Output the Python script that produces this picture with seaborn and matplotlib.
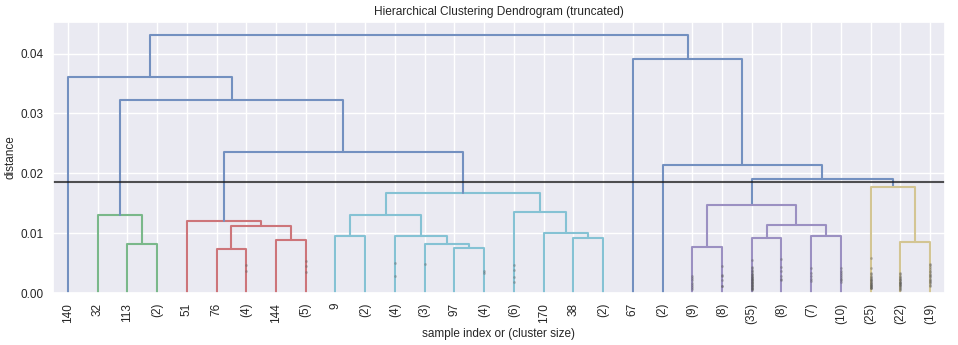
import numpy as np
import pandas as pd
import matplotlib
matplotlib.use("Agg")
import matplotlib.pyplot as plt
import seaborn as sns

# ---------------- data ----------------
leaf_labels = ["140", "32", "113", "(2)", "51", "76", "(4)", "144", "(5)", "9",
               "(2)", "(4)", "(3)", "97", "(4)", "(6)", "170", "38", "(2)", "67",
               "(2)", "(9)", "(8)", "(35)", "(8)", "(7)", "(10)", "(25)", "(22)", "(19)"]

# merges: node ids 0..29 are leaves, 30.. are merges in this order
merge_left = [2, 1, 5, 7, 32, 4, 9, 13, 12, 11, 36, 17, 16, 15, 40, 35, 31, 0,
              21, 23, 25, 49, 48, 28, 27, 52, 20, 19, 47]
merge_right = [3, 30, 6, 8, 33, 34, 10, 14, 37, 38, 39, 18, 41, 42, 43, 44, 45, 46,
               22, 24, 26, 50, 51, 29, 53, 54, 55, 56, 57]
merge_height = [0.00816, 0.01298, 0.00738, 0.00888, 0.01115, 0.01204, 0.00954,
                0.00749, 0.00821, 0.00954, 0.01303, 0.00921, 0.01004, 0.01348,
                0.01675, 0.02363, 0.03229, 0.03612, 0.00766, 0.00915, 0.00949,
                0.01132, 0.01470, 0.00849, 0.01764, 0.01897, 0.02136, 0.03911,
                0.04311]

cut_distance = 0.01847

# heights of contracted merges shown as small marks on contracted leaves
contracted_marks = [
    [], [], [], [], [], [],
    [0.0046, 0.0037],
    [],
    [0.0054, 0.0045, 0.0035],
    [], [],
    [0.0050, 0.0028],
    [0.0048],
    [],
    [0.0037, 0.0033],
    [0.0046, 0.0039, 0.0027, 0.0019],
    [], [], [], [], [],
    [0.0028, 0.0025, 0.0021, 0.0017, 0.0013, 0.0010, 0.0006],
    [0.0045, 0.0030, 0.0028, 0.0021, 0.0012, 0.0011],
    [0.0055, 0.0043, 0.0041, 0.0038, 0.0036, 0.0035, 0.0032, 0.0031, 0.0030,
     0.0028, 0.0027, 0.0026, 0.0025, 0.0024, 0.0023, 0.0022, 0.0021, 0.0020,
     0.0019, 0.0018, 0.0017, 0.0016, 0.0015, 0.0014, 0.0013, 0.0012, 0.0011,
     0.0010, 0.0009, 0.0008, 0.0007, 0.0006, 0.0005],
    [0.0056, 0.0044, 0.0037, 0.0028, 0.0023, 0.0022],
    [0.0041, 0.0033, 0.0028, 0.0024, 0.0020],
    [0.0041, 0.0037, 0.0033, 0.0030, 0.0026, 0.0024, 0.0021, 0.0019],
    [0.0058, 0.0042, 0.0033, 0.0031, 0.0029, 0.0027, 0.0025, 0.0024, 0.0022,
     0.0021, 0.0020, 0.0018, 0.0017, 0.0016, 0.0015, 0.0014, 0.0013, 0.0012,
     0.0011, 0.0010, 0.0009, 0.0008, 0.0008],
    [0.0033, 0.0031, 0.0029, 0.0027, 0.0025, 0.0023, 0.0022, 0.0021, 0.0019,
     0.0018, 0.0017, 0.0016, 0.0015, 0.0014, 0.0013, 0.0012, 0.0010, 0.0009,
     0.0007, 0.0005],
    [0.0048, 0.0046, 0.0043, 0.0040, 0.0037, 0.0035, 0.0032, 0.0030, 0.0028,
     0.0026, 0.0024, 0.0022, 0.0020, 0.0018, 0.0016, 0.0013, 0.0011],
]

cluster_palette = ["#7AB88A", "#CD757A", "#85C2D4", "#9B90C2", "#D3C593"]
above_color = "#7390C0"

# ---------------- style ----------------
sns.set_theme(style="darkgrid")
plt.rcParams["font.family"] = ["Liberation Sans", "DejaVu Sans"]
plt.rcParams["text.color"] = "#262626"

# ---------------- layout of the tree ----------------
n = len(leaf_labels)
xpos = {i: float(i) for i in range(n)}
hpos = {i: 0.0 for i in range(n)}
parent = {}
for k, (l, r, h) in enumerate(zip(merge_left, merge_right, merge_height)):
    node = n + k
    xpos[node] = (xpos[l] + xpos[r]) / 2
    hpos[node] = h
    parent[l] = node
    parent[r] = node


def leftmost(node):
    while node >= n:
        node = merge_left[node - n]
    return node


cluster_roots = [n + k for k, h in enumerate(merge_height)
                 if h < cut_distance and hpos[parent[n + k]] >= cut_distance]
cluster_roots.sort(key=leftmost)
node_color = {}
for k in range(len(merge_height) - 1, -1, -1):
    node = n + k
    if hpos[node] >= cut_distance:
        node_color[node] = above_color
    elif node in cluster_roots:
        node_color[node] = cluster_palette[cluster_roots.index(node) % len(cluster_palette)]
    else:
        node_color[node] = node_color[parent[node]]

rows = []
for k, (l, r, h) in enumerate(zip(merge_left, merge_right, merge_height)):
    node = n + k
    pts = [(xpos[l], hpos[l]), (xpos[l], h), (xpos[r], h), (xpos[r], hpos[r])]
    for j, (x, y) in enumerate(pts):
        rows.append({"link": node, "order": j, "x": x, "y": y, "c": node_color[node]})
links = pd.DataFrame(rows)

mark_rows = []
for i, hs in enumerate(contracted_marks):
    for h in hs:
        mark_rows.append({"x": float(i), "y": h})
marks = pd.DataFrame(mark_rows)

# ---------------- plot ----------------
fig, ax = plt.subplots(figsize=(9.58, 3.45), dpi=100)
fig.subplots_adjust(left=0.0553, right=0.9864, top=0.936, bottom=0.1507)

palette = {c: c for c in links["c"].unique()}
sns.lineplot(data=links, x="x", y="y", units="link", estimator=None, sort=False,
             hue="c", palette=palette, linewidth=1.5, legend=False, ax=ax)

sns.scatterplot(data=marks, x="x", y="y", color="#555555", alpha=0.35, s=4,
                linewidth=0, legend=False, ax=ax, zorder=3)

ax.axhline(y=cut_distance, color="k", alpha=0.75, linewidth=1.5)

ymax = max(merge_height) * 1.05
ax.set_xlim(-0.5, n - 0.5)
ax.set_ylim(0, ymax)
ax.set_xticks(range(n))
ax.set_xticklabels(leaf_labels, rotation=90, fontsize=8.5)
ax.set_yticks([0.0, 0.01, 0.02, 0.03, 0.04])
ax.set_yticklabels(["0.00", "0.01", "0.02", "0.03", "0.04"], fontsize=8.5)
ax.tick_params(axis="both", length=0)
ax.tick_params(axis="x", pad=7)
ax.tick_params(axis="y", pad=6.5)

ax.set_title("Hierarchical Clustering Dendrogram (truncated)", fontsize=8.6, pad=5)
ax.set_xlabel("sample index or (cluster size)", fontsize=8.5, labelpad=3)
ax.set_ylabel("distance", fontsize=8.5, labelpad=3)

fig.savefig("out.png", dpi=100)
